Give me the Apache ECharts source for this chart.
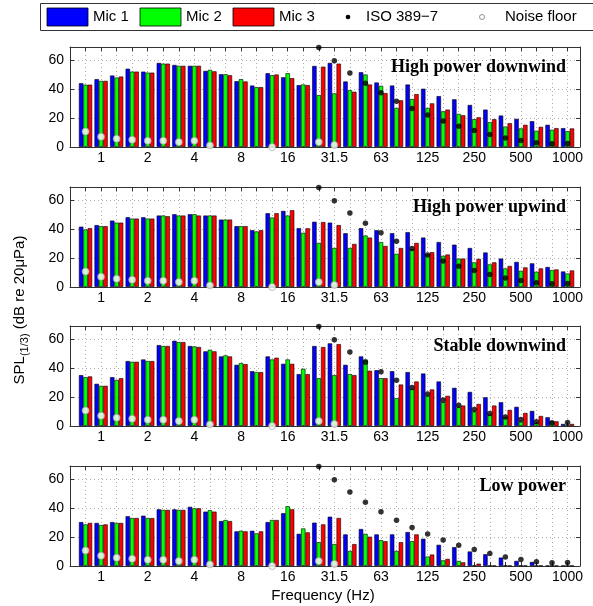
<!DOCTYPE html>
<html>
<head>
<meta charset="utf-8">
<script src="https://cdn.jsdelivr.net/npm/echarts@6/dist/echarts.min.js"></script>
<style>
html,body{margin:0;padding:0;background:#fff;}
#chart{width:593px;height:606px;}
</style>
</head>
<body>
<div id="chart"></div>
<script>
// 1/3-octave band centre frequencies (Hz)
const bands = ['0.8','1','1.25','1.6','2','2.5','3.15','4','5','6.3','8','10','12.5','16','20','25','31.5','40','50','63','80','100','125','160','200','250','315','400','500','630','800','1000'];
const tickLabels = ['1','2','4','8','16','31.5','63','125','250','500','1000'];
const panelTitles = ['High power downwind','High power upwind','Stable downwind','Low power'];

// High power downwind
const hpdMic1 = [44,46.8,49.3,54,52,58,56.6,56,52.5,50.2,45.4,42.4,50.9,48.1,42.7,55.9,58,45.2,51.6,44.5,42.4,43.1,40.2,35.1,32.9,29,25.8,21.7,19.4,17.8,15.3,13];
const hpdMic2 = [43,45.6,47.9,52,51.3,57.5,56,56,53.2,50.2,46.8,41.3,49.5,50.9,43.1,35.8,37,39.2,50,42.2,26.9,33.1,26.9,24.6,22.8,19.2,17.1,14.1,12.8,11.2,11.9,10.9];
const hpdMic3 = [43,45.6,48.6,52,51.3,57.5,56,56,52.2,49.5,45.2,41.3,50,47.5,42.7,55.4,57.5,38.1,43.1,37.2,32.2,36.5,30.1,25.8,21.9,20.5,19.2,16.4,15.3,13.9,13,12.8];
// High power upwind
const hpuMic1 = [41.6,42.7,45.8,48.1,48.1,49.3,50.2,50.2,49.3,46.5,42,39.2,50.9,52.5,40.6,45,44.4,37.1,40.6,39.2,37.1,37.8,34.1,31,29.2,26.9,23.8,19.6,17.3,16.3,13.8,10.7];
const hpuMic2 = [39.7,42,44.4,47.2,47.2,49.3,49.3,50.2,49.3,46.5,42,38.3,47.9,49.3,37.4,30.4,26.9,26.9,35.5,31,22.9,26.1,22.6,21.5,19.6,17,15.6,12.8,11.2,10.5,11.7,9.3];
const hpuMic3 = [40.6,42,44.4,47.2,47.2,48.8,49.3,49.3,49.3,46.5,42,39.2,50.9,53,40.5,44.8,42.7,29.7,34.1,28.3,26.9,30.4,24,22.4,19.6,19.4,17,14.5,13.5,12.8,12.1,11.4];
// Stable downwind
const sdMic1 = [35.1,29.1,33.7,44.8,45.9,55.8,58.8,55.2,51.5,48,42.2,37.8,48,42.9,35.8,55.2,57,42.2,48,38.5,37.8,37.2,36.2,30.7,26.3,23.5,19.8,16.4,13.2,10.4,6,1.4];
const sdMic2 = [33.7,27.7,31.8,44.3,44.8,55.2,57.9,54.9,52.6,48.7,43.4,37.2,45.9,45.9,39.5,33,35.1,35.8,45.9,33,19.2,25.6,20.8,16.4,12.9,9.9,7.8,6.2,3,2.1,3.2,0.7];
const sdMic3 = [34.2,27.7,33,44.3,44.8,55.2,57.9,54.5,51.5,48,42.7,37.2,47.1,42.9,35.8,54.5,56.5,35.1,38.1,33,28.6,30.7,25.2,20.8,14.1,15.2,14.1,11.1,9,6.9,3.2,1.4];
// Low power
const lpMic1 = [30.3,29.7,30.3,34.3,34.7,39.1,39.1,40.8,37.5,31,23.9,24.3,30.3,36.4,22.2,29.9,34,21.8,25.5,21.8,21.8,23.4,18.8,14.6,13,10,8.1,5.8,3.5,2.8,0.3,0.3];
const lpMic2 = [28.7,28.3,29.7,33.1,33.1,38.7,38.7,39.8,38.5,31.7,24.3,22.5,31.7,41.2,25.9,16.4,15.1,10.4,22.2,17.8,10.4,17.1,6.5,3.9,3.5,0.5,0.3,0.3,0.3,0.3,0.3,0.3];
const lpMic3 = [29.7,28.7,29.7,33.1,33.1,38.7,38.7,39.8,37.5,31,23.9,23.9,31.7,39.1,23.2,28.7,33.1,15.1,20.2,17.1,16.4,21.8,7.9,4.9,2.5,1.6,0.3,0.3,0.3,0.3,0.3,0.3];

// ISO 389-7 hearing threshold (dB), shown from 25 Hz
const isoThreshold = [null,null,null,null,null,null,null,null,null,null,null,null,null,null,null,68.7,59.5,51.1,44.0,37.5,31.5,26.5,22.1,17.9,14.4,11.4,8.6,6.2,4.4,3.0,2.2,2.4];
// Noise floor
const noiseFloor = [10.7,7.1,5.7,5.0,4.3,4.3,3.4,4.3,1.1,null,null,null,0,null,null,3.4,1.4,null,null,null,null,null,null,null,null,null,null,null,null,null,null,null];

const panels = [
  [hpdMic1,hpdMic2,hpdMic3],
  [hpuMic1,hpuMic2,hpuMic3],
  [sdMic1,sdMic2,sdMic3],
  [lpMic1,lpMic2,lpMic3]
];

const FONT = 'Liberation Sans, Arial, sans-serif';
const panelTops = [47, 187, 326, 466];
const panelH = 100;
const gridLeft = 70, gridRight = 13;
const colors = ['#0000ff','#00ff00','#ff0000'];
const micNames = ['Mic 1','Mic 2','Mic 3'];

function toXY(arr){ return arr.map((v,i)=> v==null ? null : [i, v]); }
function xLabel(v){
  const k = Math.round(v);
  if (Math.abs(v-k) > 1e-6 || k < 0 || k >= bands.length) return '';
  return tickLabels.indexOf(bands[k]) >= 0 ? bands[k] : '';
}

const grid = [], xAxis = [], yAxis = [], series = [], title = [];
panels.forEach((mics, p) => {
  grid.push({left: gridLeft, right: gridRight, top: panelTops[p], height: panelH, show: false});
  const axLine = {show: true, onZero: false, lineStyle: {color: '#333', width: 1}};
  xAxis.push({
    type: 'value', gridIndex: p, min: -1, max: 31.8, interval: 1, position: 'bottom',
    axisLine: axLine, axisTick: {show: true, inside: true, length: 4, lineStyle: {color: '#333'}},
    axisLabel: {formatter: xLabel, fontFamily: FONT, fontSize: 14, color: '#000', margin: 4, showMinLabel: false, showMaxLabel: false},
    splitLine: {show: true, lineStyle: {color: '#aaa', type: [1, 3], width: 1}}
  });
  xAxis.push({
    type: 'value', gridIndex: p, min: -1, max: 31.8, interval: 1, position: 'top',
    axisLine: axLine, axisTick: {show: true, inside: true, length: 4, lineStyle: {color: '#333'}},
    axisLabel: {show: false}, splitLine: {show: false}
  });
  yAxis.push({
    type: 'value', gridIndex: p, min: 0, max: 69, interval: 20, position: 'left',
    axisLine: axLine, axisTick: {show: true, inside: true, length: 4, lineStyle: {color: '#333'}},
    axisLabel: {formatter: v => (v % 20 === 0 ? String(v) : ''), fontFamily: FONT, fontSize: 14, color: '#000', margin: 6},
    splitLine: {show: true, lineStyle: {color: '#aaa', type: [1, 3], width: 1}}
  });
  yAxis.push({
    type: 'value', gridIndex: p, min: 0, max: 69, interval: 20, position: 'right',
    axisLine: axLine, axisTick: {show: true, inside: true, length: 4, lineStyle: {color: '#333'}},
    axisLabel: {show: false}, splitLine: {show: false}
  });
  mics.forEach((arr, m) => {
    series.push({
      type: 'bar', name: micNames[m], xAxisIndex: 2*p, yAxisIndex: 2*p,
      data: toXY(arr), barWidth: 4.4, barGap: '0%',
      itemStyle: {color: colors[m], borderColor: '#000', borderWidth: 0.6},
      silent: true, animation: false
    });
  });
  series.push({
    type: 'scatter', name: 'ISO 389-7', xAxisIndex: 2*p, yAxisIndex: 2*p,
    data: toXY(isoThreshold), symbol: 'circle', symbolSize: 5.5,
    itemStyle: {color: '#000'}, z: 5, clip: false, silent: true, animation: false
  });
  series.push({
    type: 'scatter', name: 'Noise floor', xAxisIndex: 2*p, yAxisIndex: 2*p,
    data: toXY(noiseFloor), symbol: 'circle', symbolSize: 7,
    itemStyle: {color: '#fff', borderColor: '#999', borderWidth: 0.8}, z: 6, clip: false, silent: true, animation: false
  });
  title.push({
    text: panelTitles[p], right: 22, top: panelTops[p] + 6,
    textStyle: {fontFamily: 'Liberation Serif, Times New Roman, serif', fontWeight: 'bold', fontSize: 18, color: '#000'}
  });
});

// legend and axis names drawn as graphic text
const legendY = 17;
const graphic = [
  {type: 'rect', shape: {x: 40.5, y: 3.5, width: 600, height: 27}, style: {fill: '#fff', stroke: '#333', lineWidth: 1}, z: 10},
];
const swX = [47, 140, 233];
const txX = [93, 186, 279];
micNames.forEach((n, i) => {
  graphic.push({type: 'rect', shape: {x: swX[i], y: 8, width: 41, height: 18}, style: {fill: colors[i], stroke: '#000', lineWidth: 0.8}, z: 11});
  graphic.push({type: 'text', x: txX[i], y: legendY, style: {text: n, font: '15px ' + FONT, fill: '#000', verticalAlign: 'middle', align: 'left'}, z: 11});
});
graphic.push({type: 'circle', shape: {cx: 348, cy: legendY, r: 2.3}, style: {fill: '#000'}, z: 11});
graphic.push({type: 'text', x: 366, y: legendY, style: {text: 'ISO 389\u22127', font: '15px ' + FONT, fill: '#000', verticalAlign: 'middle', align: 'left'}, z: 11});
graphic.push({type: 'circle', shape: {cx: 482, cy: legendY, r: 2.5}, style: {fill: '#fff', stroke: '#777', lineWidth: 0.8}, z: 11});
graphic.push({type: 'text', x: 505, y: legendY, style: {text: 'Noise floor', font: '15px ' + FONT, fill: '#000', verticalAlign: 'middle', align: 'left'}, z: 11});
graphic.push({type: 'text', x: 323, y: 596, style: {text: 'Frequency (Hz)', font: '15px ' + FONT, fill: '#000', align: 'center', verticalAlign: 'middle'}, z: 11});
graphic.push({
  type: 'text', x: 20, y: 310, rotation: Math.PI / 2,
  style: {
    text: '{a|SPL}{b|(1/3)}{a| (dB re 20\u03bcPa)}',
    align: 'center', verticalAlign: 'middle',
    rich: {
      a: {fontFamily: FONT, fontSize: 15, fill: '#000', lineHeight: 20, verticalAlign: 'middle'},
      b: {fontFamily: FONT, fontSize: 11, fill: '#000', lineHeight: 20, verticalAlign: 'bottom', padding: [6, 0, 0, 0]}
    }
  }, z: 11
});

const chart = echarts.init(document.getElementById('chart'), null, {renderer: 'canvas'});
chart.setOption({
  animation: false,
  backgroundColor: '#fff',
  title, grid, xAxis, yAxis, series, graphic,
  tooltip: {show: false}
});
</script>
</body>
</html>
